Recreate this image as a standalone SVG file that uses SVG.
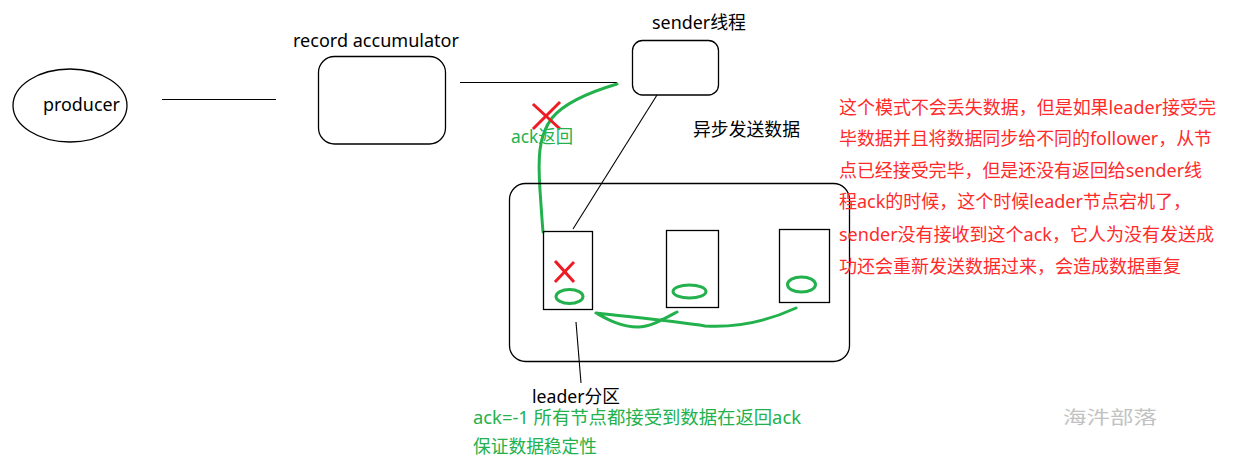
<svg xmlns="http://www.w3.org/2000/svg" width="1257" height="463" viewBox="0 0 1257 463">
<style>
text{font-family:"Noto Sans","Noto Sans CJK SC",sans-serif;font-size:18px}
.cjk{font-family:"Noto Sans CJK SC",sans-serif}
.blk{fill:#000}
.grn{fill:#22b14c}
.red{fill:#ff2a2a}
.box{fill:none;stroke:#000;stroke-width:1.3}
.ln{fill:none;stroke:#000;stroke-width:1.1}
.gc{fill:none;stroke:#22b14c;stroke-width:3;stroke-linecap:round;stroke-linejoin:round}
.x{stroke:#ed1c24;stroke-width:3;stroke-linecap:square}
</style>
<rect width="1257" height="463" fill="#fff"/>

<g id="connectors">
<line class="ln" x1="162" y1="99.5" x2="276" y2="99.5"/>
<line class="ln" x1="460" y1="82.5" x2="617" y2="82.5"/>
<line class="ln" x1="657" y1="95" x2="573" y2="229"/>
<line class="ln" x1="576" y1="322" x2="581" y2="383"/>
<path class="gc" d="M617,84 C590,92 565,102 552,118 C538,136 538,160 540,190 C541,205 542,220 543,232"/>
<path class="gc" d="M677,312 C662,320 650,327 638,327 C620,327 605,318 596,313 C640,318 680,322 705,326 C740,328 770,320 796,308"/>
</g>

<g id="producer">
<ellipse class="box" cx="70" cy="105.5" rx="57" ry="36.5"/>
<text class="blk" x="43" y="111" textLength="77" lengthAdjust="spacingAndGlyphs">producer</text>
</g>

<g id="record-accumulator">
<rect class="box" x="318.5" y="56.5" width="127" height="87.5" rx="16"/>
<text class="blk" x="293" y="47" textLength="166" lengthAdjust="spacingAndGlyphs">record accumulator</text>
</g>

<g id="sender">
<rect class="box" x="632.5" y="40.5" width="86" height="54.5" rx="10"/>
<text class="blk" x="652" y="29" textLength="94" lengthAdjust="spacingAndGlyphs">sender线程</text>
</g>

<g id="async-label">
<text class="blk cjk" x="693" y="136" textLength="107" lengthAdjust="spacingAndGlyphs">异步发送数据</text>
</g>

<g id="ack-return">
<line class="x" x1="534" y1="105" x2="559" y2="128"/>
<line class="x" x1="559" y1="103" x2="534" y2="128"/>
<text class="grn" x="511" y="143" textLength="62" lengthAdjust="spacingAndGlyphs">ack返回</text>
</g>

<g id="leader-partition">
<rect class="box" x="509.5" y="183.5" width="340" height="178" rx="16"/>
<text class="blk" x="532" y="403" textLength="88" lengthAdjust="spacingAndGlyphs">leader分区</text>
</g>

<g id="partition-1">
<rect class="box" x="543.5" y="231.5" width="49" height="78"/>
<line class="x" x1="556" y1="262" x2="573" y2="281"/>
<line class="x" x1="573" y1="263" x2="556" y2="281"/>
<ellipse cx="569.5" cy="296.5" rx="13.5" ry="7" fill="none" stroke="#22b14c" stroke-width="3"/>
</g>

<g id="partition-2">
<rect class="box" x="666.5" y="230.5" width="52" height="77"/>
<ellipse cx="689.5" cy="291.5" rx="16.5" ry="6.5" fill="none" stroke="#22b14c" stroke-width="3"/>
</g>

<g id="partition-3">
<rect class="box" x="779.5" y="229.5" width="50" height="73"/>
<ellipse cx="801.5" cy="284.5" rx="14" ry="7.5" fill="none" stroke="#22b14c" stroke-width="3"/>
</g>

<g id="note">
<text class="red" x="839" y="114" textLength="377" lengthAdjust="spacingAndGlyphs">这个模式不会丢失数据，但是如果leader接受完</text>
<text class="red" x="839" y="145" textLength="373" lengthAdjust="spacingAndGlyphs">毕数据并且将数据同步给不同的follower，从节</text>
<text class="red" x="839" y="177" textLength="363" lengthAdjust="spacingAndGlyphs">点已经接受完毕，但是还没有返回给sender线</text>
<text class="red" x="839" y="208">程ack的时候，这个时候leader节点宕机了，</text>
<text class="red" x="839" y="241" textLength="375" lengthAdjust="spacingAndGlyphs">sender没有接收到这个ack，它人为没有发送成</text>
<text class="red" x="839" y="273" textLength="342" lengthAdjust="spacingAndGlyphs">功还会重新发送数据过来，会造成数据重复</text>
</g>

<g id="ack-note">
<text class="grn" x="473" y="424" textLength="328" lengthAdjust="spacingAndGlyphs">ack=-1 所有节点都接受到数据在返回ack</text>
<text class="grn cjk" x="473" y="453" textLength="124" lengthAdjust="spacingAndGlyphs">保证数据稳定性</text>
</g>

<g id="watermark">
<text class="cjk" x="1063" y="424" font-size="22" fill="#c2c2c2" textLength="94" lengthAdjust="spacingAndGlyphs">海汼部落</text>
</g>
</svg>
